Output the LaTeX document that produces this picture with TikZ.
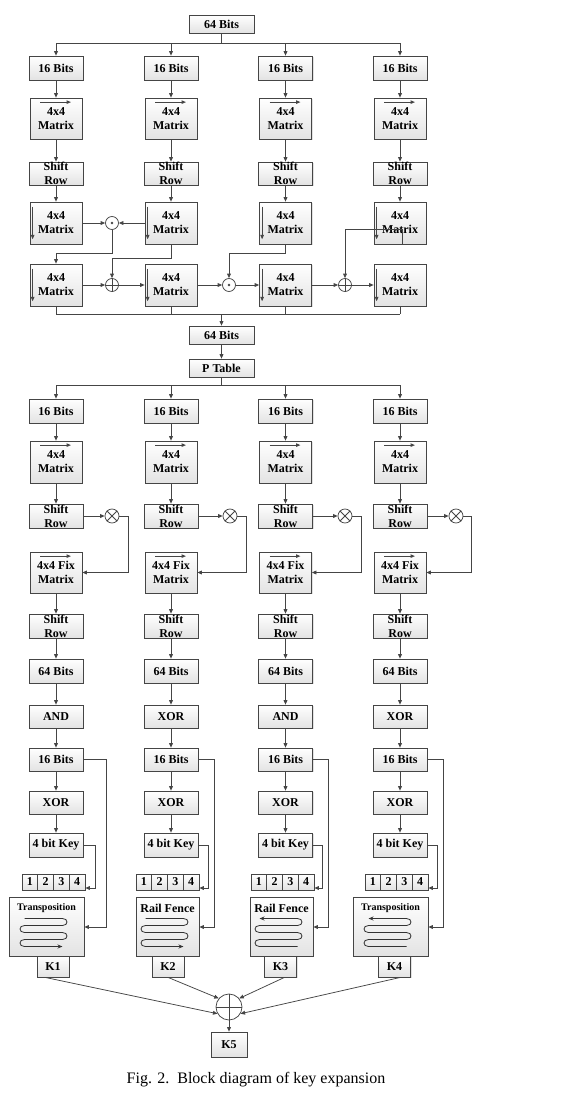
\documentclass[tikz,border=0pt]{standalone}
\usepackage{fontspec}
\setmainfont{Liberation Serif}
\usetikzlibrary{arrows.meta,shadows,calc}
\definecolor{linec}{HTML}{454545}
\tikzset{
  ln/.style={draw=linec,line width=0.75pt},
  arr/.style={ln,-{Triangle[length=4.5pt,width=3.8pt]}},
  blk/.style={draw=linec,line width=0.75pt,top color=white,bottom color=gray!22,
     drop shadow={shadow xshift=1.2pt,shadow yshift=-1.2pt,fill=gray!45},
     inner sep=0pt,rectangle},
  txt/.style={font=\fontsize{12}{14}\selectfont\bfseries,align=center,inner sep=0pt,text=black},
  crc/.style={circle,draw=linec,line width=0.75pt,fill=white,inner sep=0pt,minimum size=13pt},
  inar/.style={draw=gray!55!black,line width=1pt,-{Triangle[length=4.5pt,width=3.5pt]}},
  serp/.style={draw=black!80,line width=0.8pt},
  sA/.style={-{Stealth[length=5pt,width=4pt]}},
  sB/.style={{Stealth[length=5pt,width=4pt]}-},
}
\newcommand\bx[5]{\node[blk,minimum width=#3pt,minimum height=#4pt] (#1) at #2 {};
  \node[txt] (#1t) at (#1.center) {#5};}
\begin{document}
\begin{tikzpicture}[x=1pt,y=-1pt]
\fill[white] (0,0) rectangle (560,1098);
\useasboundingbox (0,0) rectangle (560,1098);

% ---------- section 1 ----------
\bx{ta}{(221.5,24)}{65}{18}{64 Bits}
\coordinate (br1) at (221.5,43);
\draw[ln] (ta.south) -- (br1);
\foreach \c/\x in {a/56,b/171,c/285.5,d/400}{
  \bx{s1\c}{(\x,68)}{54}{24}{16 Bits}
  \bx{m1\c}{(\x,118.5)}{52}{41}{4x4\\Matrix}
  \draw[inar] ($(m1\c.north)+(-16,4.5)$) -- ($(m1\c.north)+(15,4.5)$);
  \bx{r1\c}{(\x,173.5)}{54}{23}{Shift\\Row}
  \bx{m4\c}{(\x,223)}{52}{42}{4x4\\Matrix}
  \draw[inar] ($(m4\c.north west)+(3,5)$) -- ($(m4\c.south west)+(3,-5)$);
  \bx{m5\c}{(\x,285)}{52}{42}{4x4\\Matrix}
  \draw[inar] ($(m5\c.north west)+(3,5)$) -- ($(m5\c.south west)+(3,-5)$);
  \draw[arr] (br1) -| (s1\c.north);
  \draw[arr] (s1\c.south) -- (m1\c.north);
  \draw[arr] (m1\c.south) -- (r1\c.north);
  \draw[arr] (r1\c.south) -- (m4\c.north);
  \coordinate (bt\c) at (\x,314);
  \draw[ln] (m5\c.south) -- (bt\c);
}
% operators of section 1
\node[crc] (od1) at (112,223) {};
\fill[linec] (od1.center) circle (1.3pt);
\node[crc] (op1) at (112,285) {};
\draw[ln] (op1.north) -- (op1.south) (op1.east) -- (op1.west);
\node[crc] (od2) at (229,285) {};
\fill[linec] (od2.center) circle (1.3pt);
\node[crc] (op2) at (345,285) {};
\draw[ln] (op2.north) -- (op2.south) (op2.east) -- (op2.west);

\draw[arr] (m4a.east) -- (od1.west);
\draw[arr] (m4b.west) -- (od1.east);
\coordinate (j1) at (56,253);
\draw[arr] (od1.south) |- (j1) -- (m5a.north);
\coordinate (j2) at (112,258);
\draw[arr] (m4b.south) |- (j2) -- (op1.north);
\draw[arr] (m5a.east) -- (op1.west);
\draw[arr] (op1.east) -- (m5b.west);
\draw[arr] (m5b.east) -- (od2.west);
\draw[arr] (od2.east) -- (m5c.west);
\coordinate (j3) at (229,253);
\draw[arr] (m4c.south) |- (j3) -- (od2.north);
\draw[arr] (m5c.east) -- (op2.west);
\draw[arr] (op2.east) -- (m5d.west);
\coordinate (j4) at (345,229);
\draw[arr] ([xshift=2pt]m4d.south) |- (j4) -- (op2.north);
\draw[ln] (bta) -- (btd);
\coordinate (btm) at (221.5,314);

\bx{tb}{(221.5,335)}{65}{18}{64 Bits}
\bx{pt}{(221.5,368)}{65}{18}{P Table}
\draw[arr] (btm) -- (tb.north);
\draw[arr] (tb.south) -- (pt.north);
\coordinate (br2) at (221.5,385);
\draw[ln] (pt.south) -- (br2);

% ---------- section 2 ----------
\foreach \c/\x/\ox/\rx/\opn in {a/56/112/128/AND, b/171/230/246/XOR, c/285.5/345/361/AND, d/400/456/471/XOR}{
  \bx{s2\c}{(\x,411)}{54}{24}{16 Bits}
  \bx{m2\c}{(\x,462)}{52}{42}{4x4\\Matrix}
  \draw[inar] ($(m2\c.north)+(-16,4.5)$) -- ($(m2\c.north)+(15,4.5)$);
  \bx{r2\c}{(\x,516)}{54}{24}{Shift\\Row}
  \node[crc,minimum size=14pt] (ot\c) at (\ox,516) {};
  \draw[ln] (ot\c.45) -- (ot\c.225) (ot\c.135) -- (ot\c.315);
  \bx{fx\c}{(\x,572.5)}{52}{41}{4x4 Fix\\Matrix}
  \draw[inar] ($(fx\c.north)+(-16,4.5)$) -- ($(fx\c.north)+(15,4.5)$);
  \bx{r3\c}{(\x,626)}{54}{24}{Shift\\Row}
  \bx{b6\c}{(\x,671)}{54}{24}{64 Bits}
  \bx{lg\c}{(\x,716.5)}{54}{23}{\opn}
  \bx{s3\c}{(\x,759.5)}{54}{23}{16 Bits}
  \bx{xr\c}{(\x,802.5)}{54}{23}{XOR}
  \bx{kk\c}{(\x,845)}{54}{24}{4 bit Key}
  \draw[arr] (br2) -| (s2\c.north);
  \draw[arr] (s2\c.south) -- (m2\c.north);
  \draw[arr] (m2\c.south) -- (r2\c.north);
  \draw[arr] (r2\c.east) -- (ot\c.west);
  \coordinate (ct\c) at (\rx,572.5);
  \draw[arr] (ot\c.east) -| (ct\c) -- (fx\c.east);
  \draw[arr] (fx\c.south) -- (r3\c.north);
  \draw[arr] (r3\c.south) -- (b6\c.north);
  \draw[arr] (b6\c.south) -- (lg\c.north);
  \draw[arr] (lg\c.south) -- (s3\c.north);
  \draw[arr] (s3\c.south) -- (xr\c.north);
  \draw[arr] (xr\c.south) -- (kk\c.north);
}

% ---------- ciphers ----------
\foreach \c/\cx/\w/\ttl/\fs/\kc/\sd/\sx/\kx/\cl/\num in {
  a/46.5/75/Transposition/10/53/sA/106/95/22/1,
  b/167.5/63/Rail Fence/12/168/sA/214/208/136/2,
  c/281.5/63/Rail Fence/12/280.5/sB/328/322/251/3,
  d/390.5/75/Transposition/10/394.5/sB/443/437/365/4}{
  \foreach \i in {1,...,4}{
    \bx{n\c\i}{({\cl+15.75*\i-7.875},882)}{15.75}{16}{\i}
  }
  \node[blk,minimum width=\w pt,minimum height=59pt] (cp\c) at (\cx,926.5) {};
  \node[font=\fontsize{\fs}{12}\selectfont\bfseries,inner sep=0pt] (tt\c) at (\cx,908) {\ttl};
  \pgfmathsetmacro\sl{\cx-22}
  \pgfmathsetmacro\sr{\cx+16}
  \draw[serp,\sd] (\sl,918.5) -- (\sr,918.5) to[out=0,in=0,looseness=2.2] (\sr,925.5)
     -- (\sl,925.5) to[out=180,in=180,looseness=2.2] (\sl,932.5)
     -- (\sr,932.5) to[out=0,in=0,looseness=2.2] (\sr,939.5)
     -- (\sl,939.5) to[out=180,in=180,looseness=2.2] (\sl,946.5) -- (\sr,946.5);
  \bx{k\c}{(\kc,966.5)}{32}{21}{K\num}
  \coordinate (cq\c) at (\sx,927);
  \draw[arr] (s3\c.east) -| (cq\c) -- (cp\c.east |- cq\c);
  \coordinate (kq\c) at (\kx,888);
  \draw[arr] (kk\c.east) -| (kq\c) -- (n\c4.east |- kq\c);
}

% ---------- final combination ----------
\node[crc,minimum size=26pt] (sum) at (229,1007) {};
\draw[ln] (sum.north) -- (sum.south) (sum.east) -- (sum.west);
\bx{kf}{(229,1044.5)}{36}{25}{K5}
\draw[arr] ([xshift=-8pt]ka.south) -- (sum.210);
\draw[arr] (kb.south) -- (sum.140);
\draw[arr] ([xshift=4pt]kc.south) -- (sum.40);
\draw[arr] ([xshift=6pt]kd.south) -- (sum.330);
\draw[arr] (sum.south) -- (kf.north);

\node[font=\fontsize{16}{18}\selectfont,anchor=base,inner sep=0pt] (cap) at (256,1083)
  {Fig. 2.\ \ Block diagram of key expansion};
\end{tikzpicture}
\end{document}
